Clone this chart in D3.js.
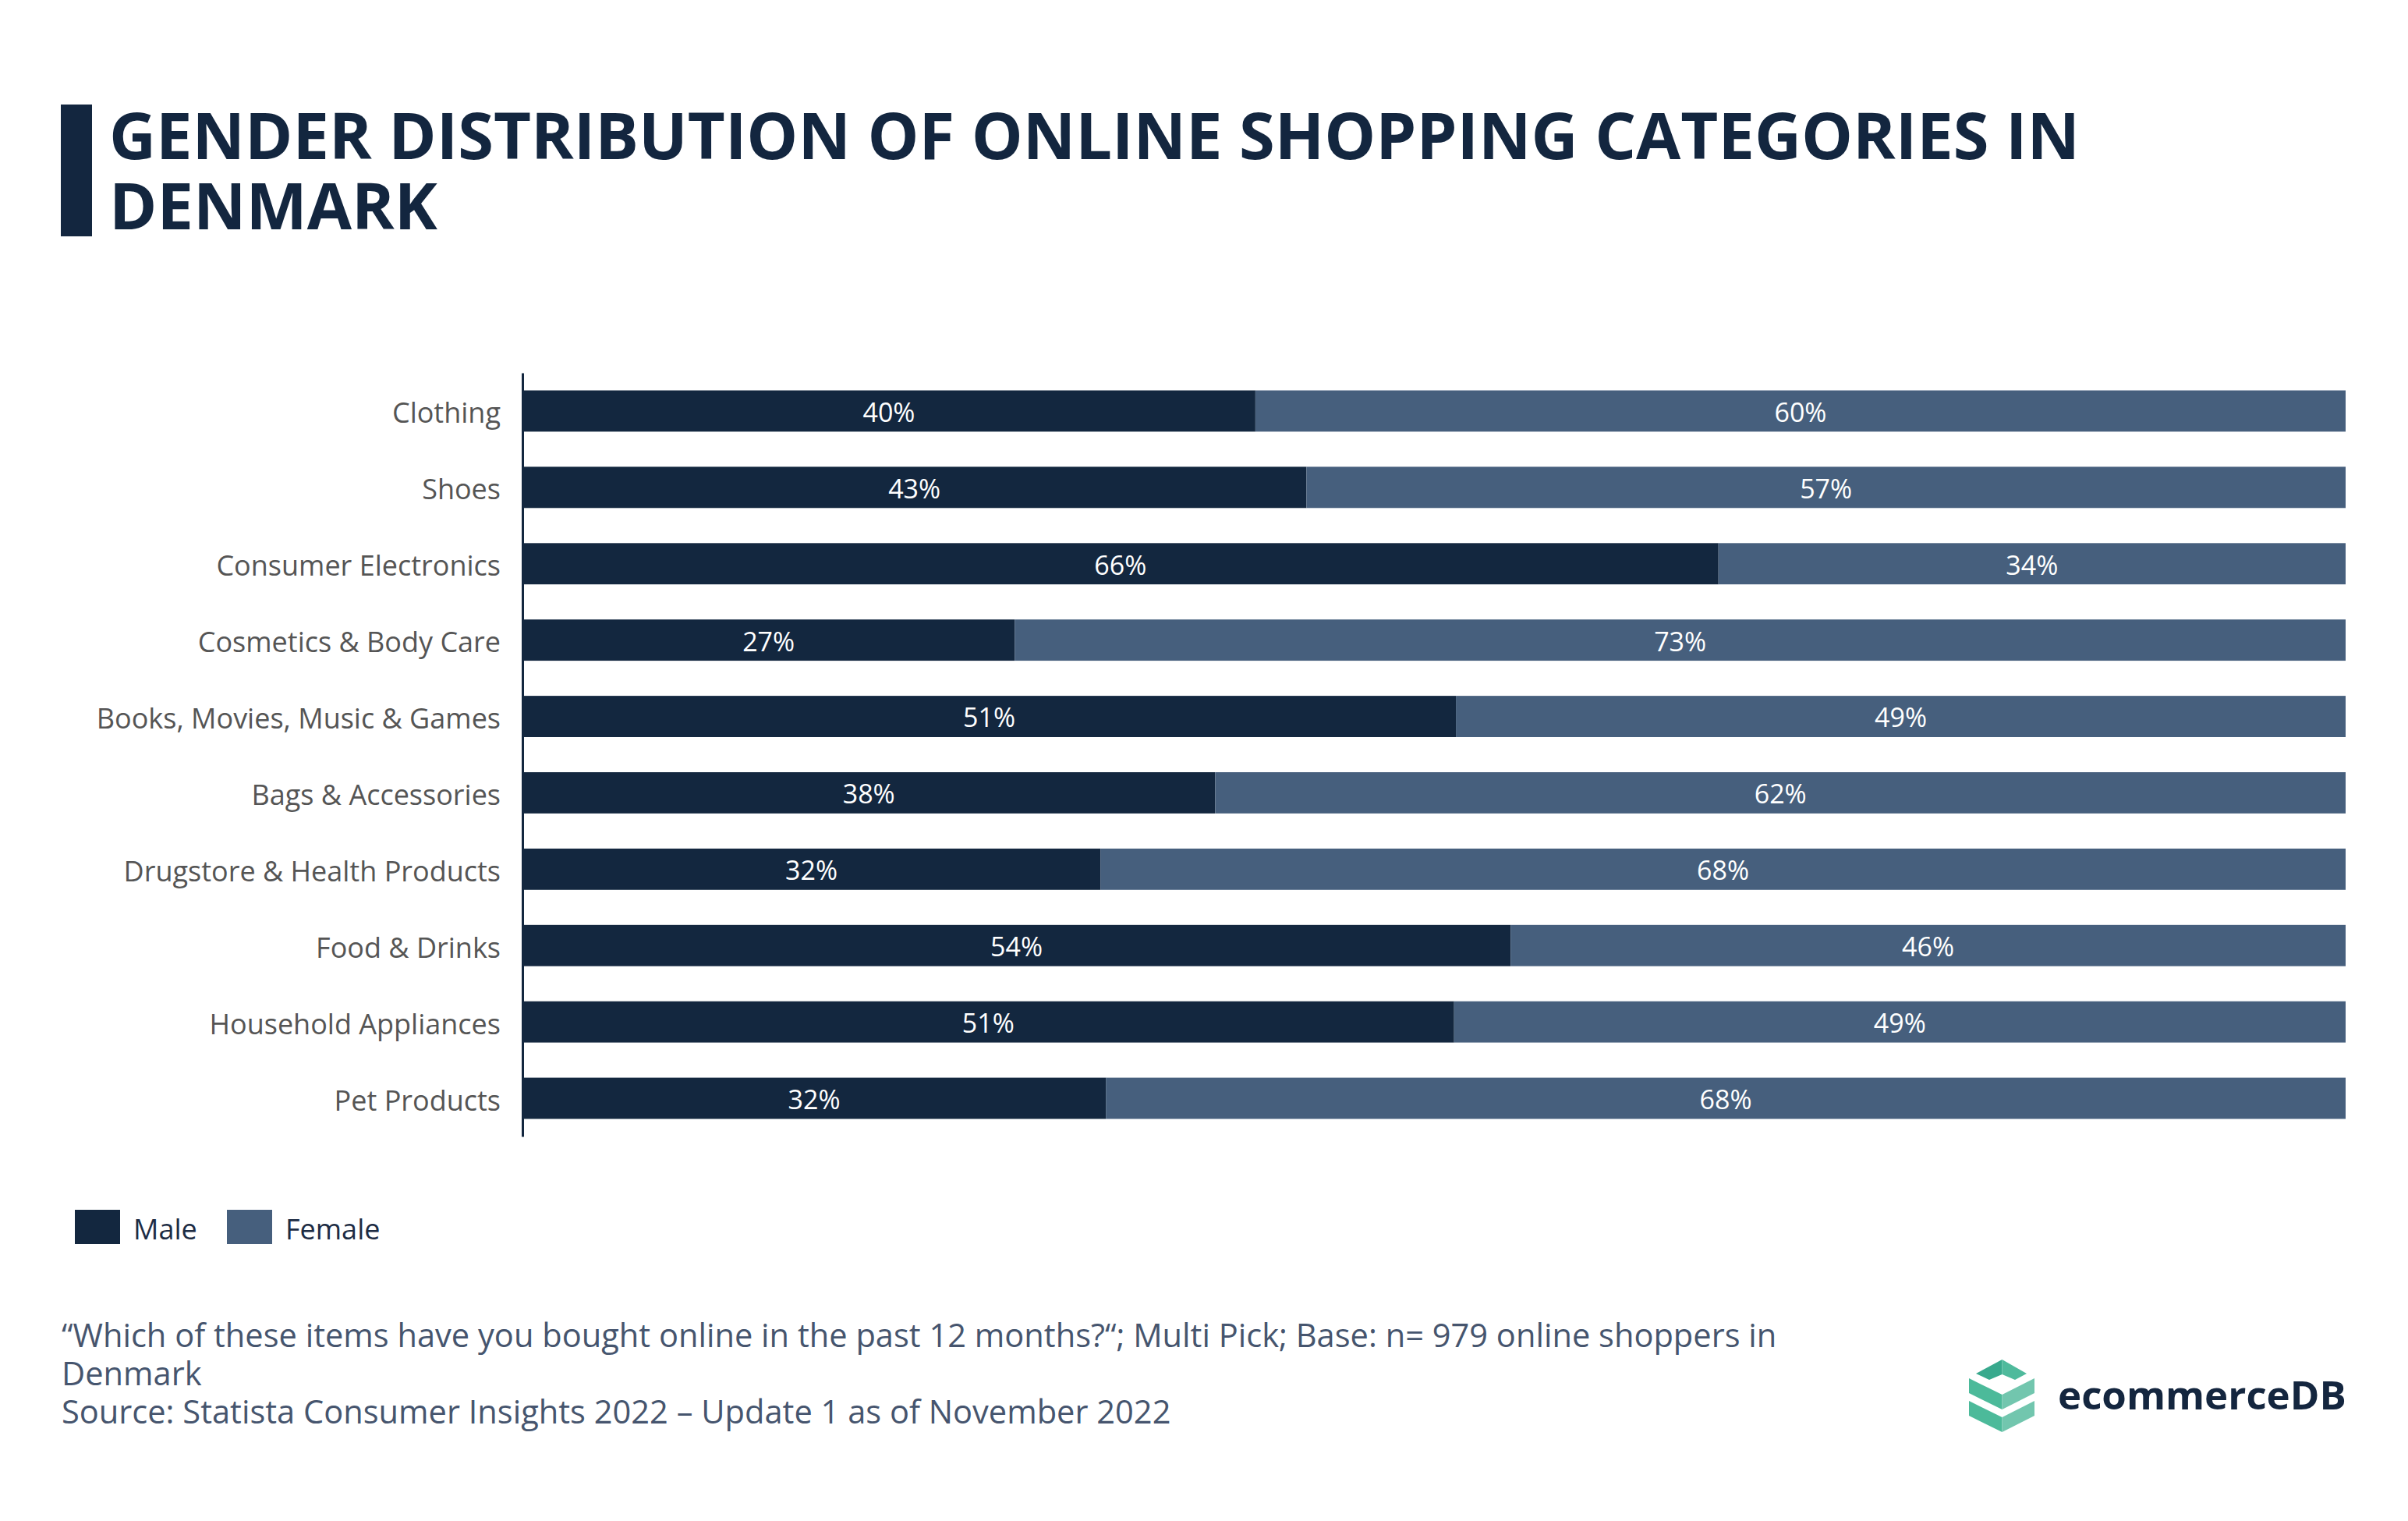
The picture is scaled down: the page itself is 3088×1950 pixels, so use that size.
<!DOCTYPE html>
<html>
<head>
<meta charset="utf-8">
<script src="https://cdn.jsdelivr.net/npm/d3@7"></script>
<style>
  html, body { margin: 0; padding: 0; background: #fff; }
  svg { display: block; font-family: "Open Sans", "Noto Sans", sans-serif; }
</style>
</head>
<body>
<svg id="chart" width="3088" height="1950"></svg>
<script>
// data
const categories = [
  "Clothing",
  "Shoes",
  "Consumer Electronics",
  "Cosmetics & Body Care",
  "Books, Movies, Music & Games",
  "Bags & Accessories",
  "Drugstore & Health Products",
  "Food & Drinks",
  "Household Appliances",
  "Pet Products"
];
const maleShare   = [40.2, 43.0, 65.6, 27.0, 51.2, 38.0, 31.7, 54.2, 51.1, 32.0];
const femaleShare = [59.8, 57.0, 34.4, 73.0, 48.8, 62.0, 68.3, 45.8, 48.9, 68.0];
const seriesNames = ["Male", "Female"];
const seriesColors = ["#13273f", "#465f7d"];

const titleLines = ["GENDER DISTRIBUTION OF ONLINE SHOPPING CATEGORIES IN", "DENMARK"];
const footerLines = [
  "\u201CWhich of these items have you bought online in the past 12 months?\u201C; Multi Pick; Base: n= 979 online shoppers in",
  "Denmark",
  "Source: Statista Consumer Insights 2022 \u2013 Update 1 as of November 2022"
];

const svg = d3.select("#chart");

// title with the dark side bar
svg.append("rect")
  .attr("x", 78).attr("y", 134)
  .attr("width", 40).attr("height", 169)
  .attr("fill", "#13263f");

svg.append("g")
  .selectAll("text")
  .data(titleLines)
  .join("text")
  .attr("x", 140)
  .attr("y", (d, i) => 204 + i * 90)
  .attr("font-size", 83)
  .attr("font-weight", 700)
  .attr("fill", "#13263f")
  .text(d => d);

// scales
const y = d3.scaleBand()
  .domain(categories)
  .range([478, 1457])
  .paddingInner(0.46)
  .paddingOuter(0.23);

const x = d3.scaleLinear()
  .domain([0, 100])
  .range([670, 3008]);

const color = d3.scaleOrdinal().domain(seriesNames).range(seriesColors);

const rows = categories.map((c, i) => ({
  category: c,
  Male: maleShare[i],
  Female: femaleShare[i]
}));
const stacked = d3.stack().keys(seriesNames)(rows);

// bars
const layers = svg.append("g")
  .selectAll("g")
  .data(stacked)
  .join("g")
  .attr("fill", d => color(d.key));

layers.selectAll("rect")
  .data(d => d)
  .join("rect")
  .attr("x", d => x(d[0]))
  .attr("y", d => y(d.data.category))
  .attr("width", d => x(d[1]) - x(d[0]))
  .attr("height", y.bandwidth());

// value labels centered in each segment
layers.selectAll("text")
  .data(d => d)
  .join("text")
  .attr("x", d => (x(d[0]) + x(d[1])) / 2)
  .attr("y", d => y(d.data.category) + y.bandwidth() / 2)
  .attr("dy", "0.41em")
  .attr("text-anchor", "middle")
  .attr("font-size", 34)
  .attr("fill", "#ffffff")
  .text(d => Math.round(d[1] - d[0]) + "%");

// category axis
const axis = svg.append("g")
  .attr("transform", `translate(${x(0)},0)`)
  .call(d3.axisLeft(y).tickSize(0).tickPadding(28));

axis.select(".domain")
  .attr("stroke", "#13273f")
  .attr("stroke-width", 3);

axis.selectAll(".tick text")
  .attr("font-size", 36)
  .attr("dy", "0.43em")
  .attr("font-family", "\"Open Sans\", sans-serif")
  .attr("fill", "#555555");

// legend
const legend = svg.append("g")
  .selectAll("g")
  .data(seriesNames)
  .join("g")
  .attr("transform", (d, i) => `translate(${96 + i * 195},1551)`);

legend.append("rect")
  .attr("width", 58)
  .attr("height", 44)
  .attr("fill", d => color(d));

legend.append("text")
  .attr("x", 75)
  .attr("y", 22)
  .attr("dy", "0.45em")
  .attr("font-size", 36)
  .attr("fill", "#1d2c44")
  .text(d => d);

// footer notes
svg.append("g")
  .selectAll("text")
  .data(footerLines)
  .join("text")
  .attr("x", 79)
  .attr("y", (d, i) => 1727 + i * 49)
  .attr("font-size", 41.6)
  .attr("fill", "#46556e")
  .text(d => d);

// ecommerceDB logo
const logo = svg.append("g");
const logoShapes = [
  { fill: "#38a98d", pts: [[2534, 1761], [2567.5, 1743], [2567.5, 1762], [2551, 1769]] },
  { fill: "#4fba9c", pts: [[2567.5, 1743], [2599, 1761], [2584, 1769], [2567.5, 1762]] },
  { fill: "#4cba9a", pts: [[2525, 1767], [2567.5, 1788], [2567.5, 1807], [2525, 1786]] },
  { fill: "#72c6ae", pts: [[2567.5, 1788], [2609, 1767], [2609, 1786], [2567.5, 1807]] },
  { fill: "#4cba9a", pts: [[2525, 1796], [2567.5, 1817], [2567.5, 1836], [2525, 1815]] },
  { fill: "#72c6ae", pts: [[2567.5, 1817], [2609, 1796], [2609, 1815], [2567.5, 1836]] }
];
logo.selectAll("path")
  .data(logoShapes)
  .join("path")
  .attr("d", d => d3.line()(d.pts) + "Z")
  .attr("fill", d => d.fill);

logo.append("text")
  .attr("x", 2639)
  .attr("y", 1807)
  .attr("font-size", 51)
  .attr("font-weight", 700)
  .attr("fill", "#14263f")
  .text("ecommerceDB");
</script>
</body>
</html>
